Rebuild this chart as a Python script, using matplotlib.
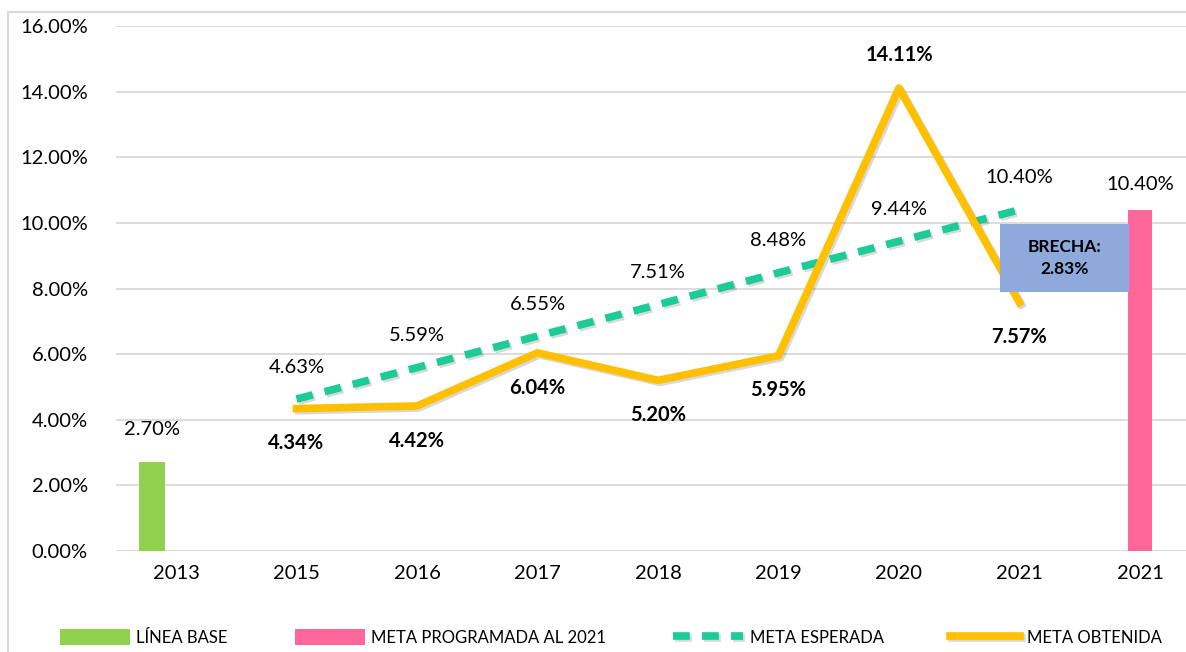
import numpy as np
import matplotlib.pyplot as plt
import matplotlib.patheffects as pe
from matplotlib.patches import Rectangle

plt.rcParams['font.family'] = ['Lato', 'DejaVu Sans']

# data
categories = ['2013', '2015', '2016', '2017', '2018', '2019', '2020', '2021', '2021']
linea_base = [2.70]
meta_programada = [10.40]
meta_esperada = [4.63, 5.59, 6.55, 7.51, 8.48, 9.44, 10.40]
meta_obtenida = [4.34, 4.42, 6.04, 5.20, 5.95, 14.11, 7.57]
brecha = 2.83

x = np.arange(len(categories))
x_lines = x[1:8]

fig = plt.figure(figsize=(11.86, 6.52), dpi=100)
ax = fig.add_axes([0.0976, 0.1549, 0.9144, 0.8052])

# outer chart border
fig.patches.append(Rectangle((8 / 1186, -0.1), 1.2, 1 - 12 / 652 + 0.1,
                             transform=fig.transFigure, fill=False,
                             edgecolor='#D9D9D9', linewidth=1.5))

shadow = [pe.SimpleLineShadow(offset=(1.5, -1.5), alpha=0.15), pe.Normal()]

b1 = ax.bar(x[0] - 0.2, linea_base, width=0.21, color='#92D050', zorder=3,
            label='LÍNEA BASE')
b2 = ax.bar(x[8], meta_programada, width=0.2, color='#FF6699', zorder=3,
            label='META PROGRAMADA AL 2021')
l1, = ax.plot(x_lines, meta_esperada, color='#1DCB96', linewidth=5.5,
              linestyle=(0, (2.2, 1.6)), zorder=4, label='META ESPERADA',
              path_effects=shadow)
l2, = ax.plot(x_lines, meta_obtenida, color='#FFC000', linewidth=5.5, zorder=4,
              label='META OBTENIDA', path_effects=shadow)

# data labels
fs = 14.5
ax.annotate('%.2f%%' % linea_base[0], (x[0] - 0.2, linea_base[0]),
            xytext=(0, 24), textcoords='offset points', ha='center',
            va='center', fontsize=fs)
ax.annotate('%.2f%%' % meta_programada[0], (x[8], meta_programada[0]),
            xytext=(0, 18), textcoords='offset points', ha='center',
            va='center', fontsize=fs)
for xi, v in zip(x_lines, meta_esperada):
    ax.annotate('%.2f%%' % v, (xi, v), xytext=(0, 23),
                textcoords='offset points', ha='center', va='center',
                fontsize=fs)
for xi, v in zip(x_lines, meta_obtenida):
    off = 24 if v > 10 else -25
    ax.annotate('%.2f%%' % v, (xi, v), xytext=(0, off),
                textcoords='offset points', ha='center', va='center',
                fontsize=fs, fontweight='bold')

# brecha box
ax.add_patch(Rectangle((6.84, 7.9), 1.07, 2.07, facecolor='#8EA9DB',
                       edgecolor='none', zorder=5))
ax.text(7.375, 8.93, 'BRECHA:\n%.2f%%' % brecha, ha='center', va='center',
        fontsize=12.5, fontweight='bold', zorder=6, linespacing=1.5)

ax.set_xlim(-0.5, 8.5)
ax.set_ylim(0, 16)
ax.set_yticks(np.arange(0, 17, 2))
ax.yaxis.set_major_formatter(plt.FuncFormatter(lambda v, p: '%.2f%%' % v))
ax.set_xticks(x)
ax.set_xticklabels(categories)
ax.tick_params(length=0, labelsize=fs, pad=10)
ax.tick_params(axis='y', pad=20)
ax.grid(axis='y', color='#D9D9D9', linewidth=1.3)
ax.set_axisbelow(True)
for s in ax.spines.values():
    s.set_visible(False)

fig.legend(handles=[b1, b2, l1, l2], loc='center',
           bbox_to_anchor=(0.515, 0.022), ncol=4,
           frameon=False, fontsize=12, handlelength=4.2, handleheight=1.1,
           columnspacing=4.0, handletextpad=0.4)

fig.savefig('out.png', dpi=100)
